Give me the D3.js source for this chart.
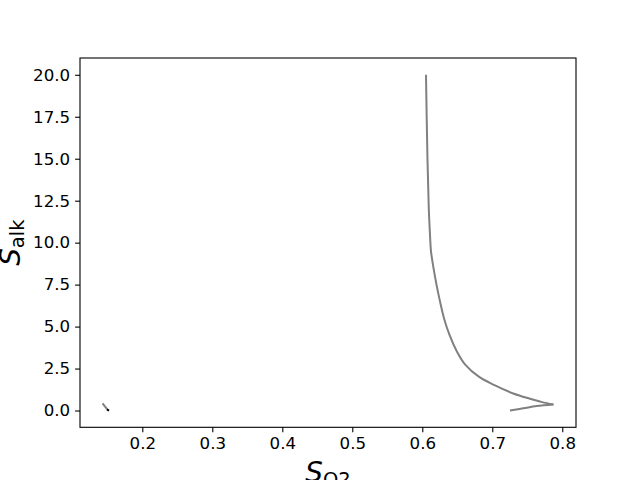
<!DOCTYPE html>
<html><head><meta charset="utf-8">
<script src="https://cdn.jsdelivr.net/npm/d3@7"></script>
<style>body{margin:0;background:#fff}svg{display:block}text{font-family:"DejaVu Sans",sans-serif}</style>
</head><body><svg id="c" width="640" height="480"></svg>
<script>
// Main trajectory (gray): upper branch down to the tip
const mainX = [0.6053,0.6074,0.6093,0.6110,0.6124,0.6160,0.6203,0.6253,0.6310,0.6389,0.6496,0.6610,0.6813,0.7039,0.7310,0.7539,0.7710,0.7874];
const mainY = [20.0,15.0,12.0,10.5,9.5,8.5,7.5,6.5,5.5,4.5,3.5,2.75,2.0,1.5,1.0,0.7,0.5,0.36];
// return branch from the tip
const retX = [0.7874,0.7634,0.7443,0.7253];
const retY = [0.36,0.27,0.13,0.0];
// Small trajectory near left (gray)
const smallX = [0.1432,0.1460,0.1490,0.1505];
const smallY = [0.42,0.27,0.12,0.05];
// Short dark segment
const darkX = [0.1495,0.1525];
const darkY = [0.05,0.0];
const xTicks = [0.2,0.3,0.4,0.5,0.6,0.7,0.8];
const yTicks = [0,2.5,5,7.5,10,12.5,15,17.5,20];

const svg = d3.select("#c");
const L=80,R=576,T=58,B=427.3;
const allX = mainX.concat(retX, smallX, darkX), allY = mainY.concat(retY, smallY, darkY);
const xmin=d3.min(allX), xmax=d3.max(allX), ymin=d3.min(allY), ymax=d3.max(allY);
const mx=(xmax-xmin)*0.05, my=(ymax-ymin)*0.05;
const x = d3.scaleLinear().domain([xmin-mx,xmax+mx]).range([L,R]);
const y = d3.scaleLinear().domain([ymin-my,ymax+my]).range([B,T]);

const line = (xs,ys,c)=>d3.line().curve(c||d3.curveLinear).x((d,i)=>x(xs[i])).y((d,i)=>y(ys[i]))(xs);
svg.append("path").attr("d",line(mainX,mainY,d3.curveCatmullRom.alpha(0.5))).attr("fill","none").attr("stroke","#808080").attr("stroke-width",2).attr("stroke-linejoin","round");
svg.append("path").attr("d",line(retX,retY,d3.curveCatmullRom.alpha(0.5))).attr("fill","none").attr("stroke","#808080").attr("stroke-width",2);
svg.append("path").attr("d",line(smallX,smallY)).attr("fill","none").attr("stroke","#808080").attr("stroke-width",2);
svg.append("path").attr("d",line(darkX,darkY)).attr("fill","none").attr("stroke","#000").attr("stroke-width",2);

const xa = svg.append("g").attr("transform",`translate(0,${B})`)
  .call(d3.axisBottom(x).tickValues(xTicks).tickFormat(d3.format(".1f")).tickSize(4.9).tickPadding(4.9));
const ya = svg.append("g").attr("transform",`translate(${L},0)`)
  .call(d3.axisLeft(y).tickValues(yTicks).tickFormat(d3.format(".1f")).tickSize(4.9).tickPadding(4.9));
[xa,ya].forEach(g=>{g.select(".domain").remove();
  g.selectAll("text").attr("font-size","16.67px").attr("font-family","DejaVu Sans").attr("fill","#000");
  g.selectAll("line").attr("stroke","#000").attr("stroke-width",1.1);});

svg.append("rect").attr("x",L).attr("y",T).attr("width",R-L).attr("height",B-T)
  .attr("fill","none").attr("stroke","#000").attr("stroke-width",1.1);

// Axis labels
const xl = svg.append("text").attr("x",(L+R)/2).attr("y",482).attr("text-anchor","middle").attr("font-size","27.8px");
xl.append("tspan").attr("font-style","italic").text("S");
xl.append("tspan").attr("font-size","19.5px").attr("dy",4).text("O2");

const yl = svg.append("text").attr("transform",`translate(20,${(T+B)/2}) rotate(-90)`).attr("text-anchor","middle").attr("font-size","27.8px");
yl.append("tspan").attr("font-style","italic").text("S");
yl.append("tspan").attr("font-size","19.5px").attr("dy",4).text("alk");
</script></body></html>
